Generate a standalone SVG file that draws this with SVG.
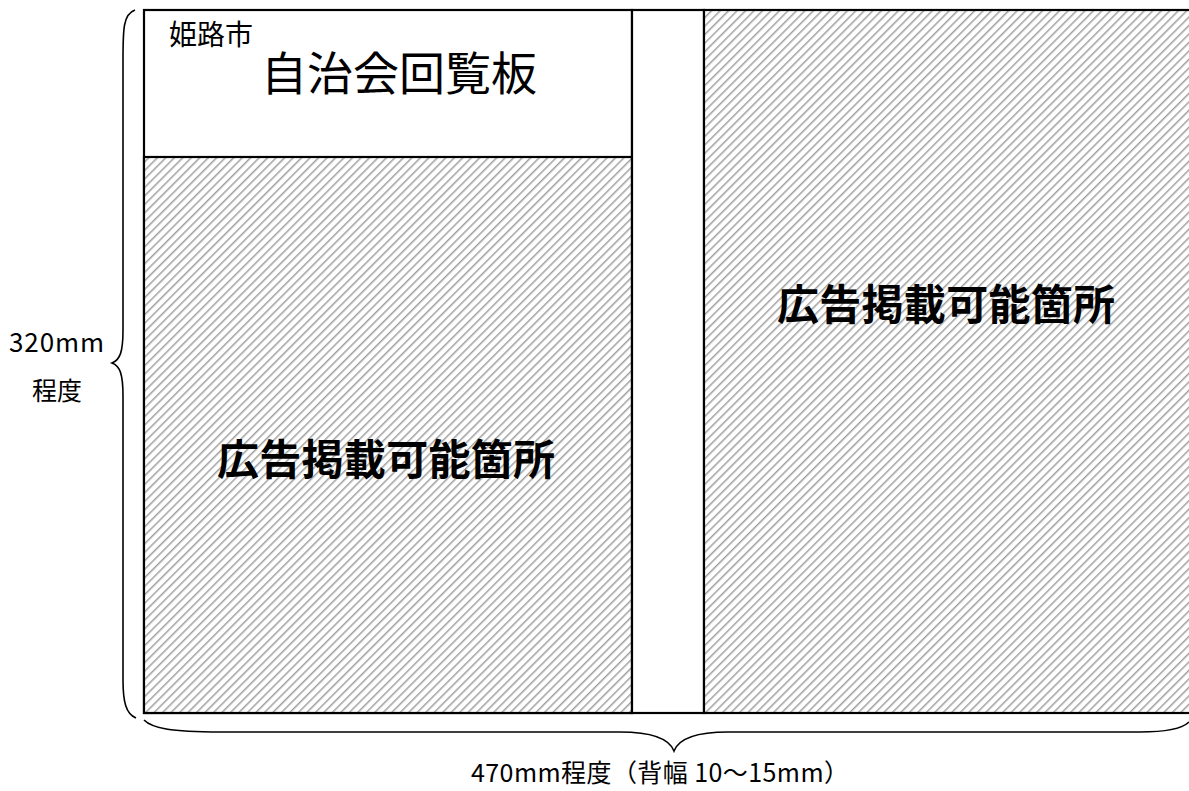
<svg xmlns="http://www.w3.org/2000/svg" width="1189" height="791" viewBox="0 0 1189 791">
<style>
.box{stroke:#000;stroke-width:2.2;}
.hatch{fill:url(#h);}
.brace{fill:none;stroke:#000;stroke-width:1.6;}
.t{font-family:"Noto Sans CJK JP","Noto Sans",sans-serif;fill:#000;}
.big{font-family:"Noto Sans CJK JP",sans-serif;font-weight:bold;font-size:42px;fill:#000;}
</style>
<defs>
<pattern id="h" patternUnits="userSpaceOnUse" width="6" height="6" patternTransform="rotate(45)">
<rect width="6" height="6" fill="#fff"/>
<line x1="0" y1="0" x2="0" y2="6" stroke="#a0a0a0" stroke-width="3"/>
</pattern>
</defs>
<g id="left-panel">
<rect class="box" x="144" y="10" width="488" height="703" fill="#fff"/>
<rect class="box hatch" x="144" y="157" width="488" height="556"/>
<text class="t" x="169" y="45" font-size="28">姫路市</text>
<text class="t" x="261" y="90" font-size="46">自治会回覧板</text>
<text class="big" x="217" y="475" textLength="338">広告掲載可能箇所</text>
</g>
<g id="spine">
<rect class="box" x="632" y="10" width="72" height="703" fill="#fff"/>
</g>
<g id="right-panel">
<rect class="box hatch" x="704" y="10" width="490" height="703"/>
<text class="big" x="777" y="320" textLength="338">広告掲載可能箇所</text>
</g>
<g id="connectors">
<path class="brace" d="M135,10 C123,14 123,30 123,60 L123,330 C123,352 120,360 112,363 C120,366 123,374 123,396 L123,680 C123,702 126,714 136,718"/>
<path class="brace" d="M144,720 C152,728 170,732 220,732 L620,732 C650,732 669,738 674,751 C679,738 698,732 728,732 L1140,732 C1170,732 1184,727 1189,722"/>
</g>
<g id="labels">
<text class="t" x="9" y="352" font-size="26" textLength="95">320mm</text>
<text class="t" x="32" y="400" font-size="25">程度</text>
<text class="t" x="471" y="782" font-size="25" textLength="378">470mm程度（背幅 10～15mm）</text>
</g>
</svg>
